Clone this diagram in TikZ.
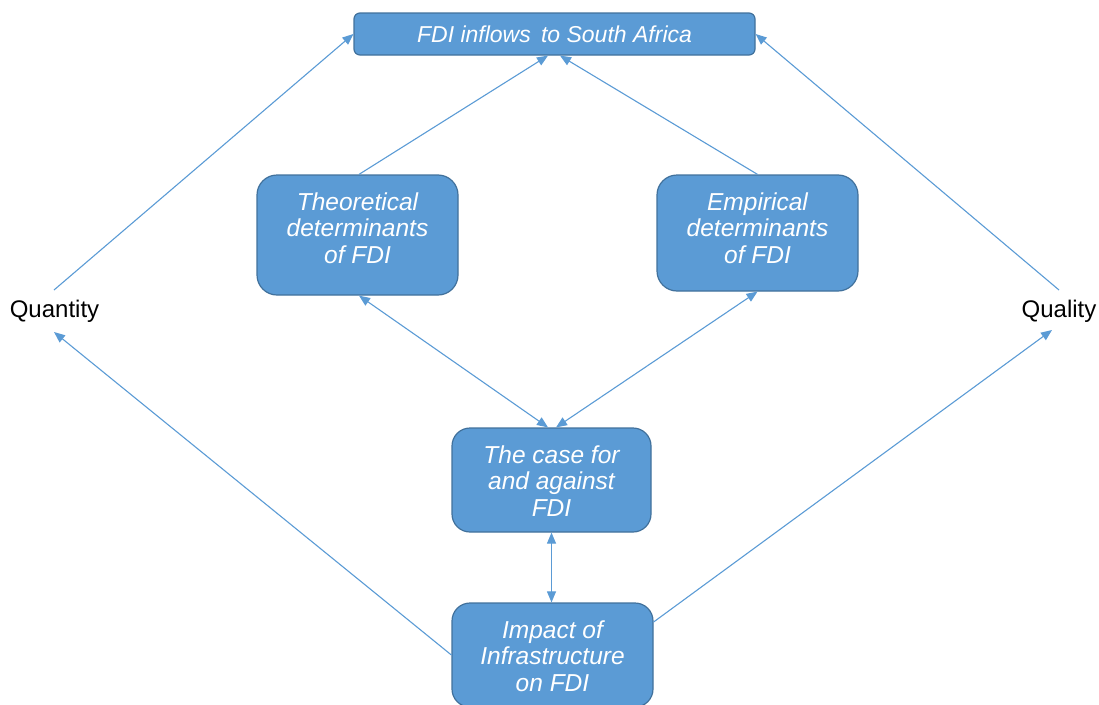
\documentclass[tikz,border=0pt]{standalone}
\usepackage{fontspec}
\setmainfont{Liberation Sans}
\usetikzlibrary{arrows.meta}
\definecolor{boxfill}{HTML}{5B9BD5}
\definecolor{boxline}{HTML}{41719C}
\definecolor{conn}{HTML}{5B9BD5}
\begin{document}
\begin{tikzpicture}[x=1pt,y=-1pt,
  box/.style={draw=boxline,line width=1.2pt,fill=boxfill,text=white,
    font=\fontsize{24.5}{26.5}\selectfont\itshape,align=center,inner sep=0pt,anchor=center},
  lbl/.style={font=\fontsize{24}{26}\selectfont,text=black,inner sep=0pt},
  conn/.style={draw=conn,line width=1.1pt,-{Triangle[length=11pt,width=9pt]}},
  conn2/.style={draw=conn,line width=1.1pt,{Triangle[length=11pt,width=9pt]}-{Triangle[length=11pt,width=9pt]}}]
\useasboundingbox (0,0) rectangle (1099,704);
\begin{scope}
\clip (0,0) rectangle (1099,704);
\node[box,rounded corners=6pt,minimum width=401pt,minimum height=42pt,font=\fontsize{23}{26}\selectfont\itshape] (top) at (554.5,34) {FDI inflows\, to South Africa};
\node[box,rounded corners=20pt,minimum width=201pt,minimum height=120pt] (theo) at (357.5,235) {};
\node[box,rounded corners=20pt,minimum width=201pt,minimum height=116pt] (emp) at (757.5,233) {};
\node[box,rounded corners=18pt,minimum width=199pt,minimum height=104pt] (case) at (551.5,480) {};
\node[box,rounded corners=18pt,minimum width=201pt,minimum height=104pt] (imp) at (552.5,655) {};
\end{scope}
\node[box,draw=none,fill=none] (theoT) at (357.5,228) {Theoretical\\determinants\\of FDI};
\node[box,draw=none,fill=none] (empT) at (757.5,228) {Empirical\\determinants\\of FDI};
\node[box,draw=none,fill=none] (caseT) at (551.5,481) {The case for\\and against\\FDI};
\node[box,draw=none,fill=none] (impT) at (552.5,656) {Impact of\\Infrastructure\\on FDI};
\node[lbl] (qty) at (54.5,311) {Quantity};
\node[lbl] (qlt) at (1059,311) {Quality};
\coordinate (qtyT) at (54,290);
\coordinate (qtyB) at (54,332);
\coordinate (qltT) at (1059,290);
\coordinate (qltB) at (1052,330);
\draw[conn] (qtyT) -- (top.west);
\draw[conn] (qltT) -- (top.east);
\draw[conn] ([xshift=1.5pt]theo.north) -- ([xshift=-6.5pt]top.south);
\draw[conn] (emp.north) -- ([xshift=5.5pt]top.south);
\draw[conn2] ([xshift=1.5pt]theo.south) -- ([xshift=-3.5pt]case.north);
\draw[conn2] (emp.south) -- ([xshift=4.5pt]case.north);
\draw[conn2] (case.south) -- (case.south |- imp.north);
\draw[conn] (imp.west) -- (qtyB);
\draw[conn] ([yshift=33pt]imp.east) -- (qltB);
\end{tikzpicture}
\end{document}
